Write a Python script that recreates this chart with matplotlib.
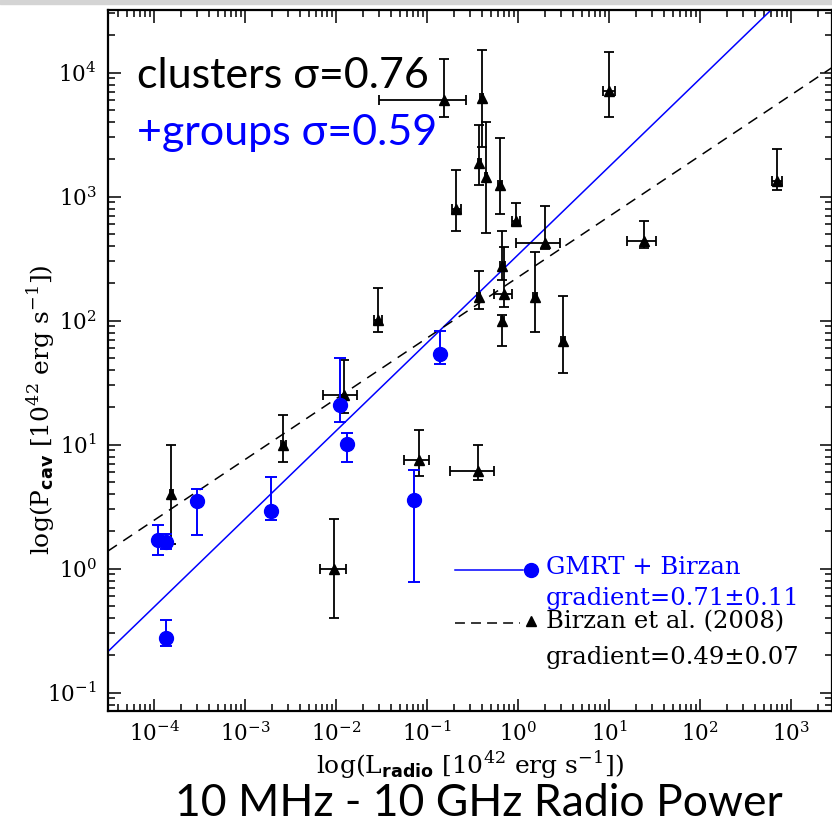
import numpy as np
import matplotlib.pyplot as plt
from matplotlib.ticker import LogLocator, NullFormatter

plt.rcParams['font.family'] = ['DejaVu Serif']
plt.rcParams['mathtext.fontset'] = 'custom'
plt.rcParams['mathtext.rm'] = 'DejaVu Serif'
plt.rcParams['mathtext.bf'] = 'DejaVu Sans:bold'

# GMRT + Birzan groups (blue circles): radio power, cavity power, y error range
gmrt_l = [1.11e-4, 1.35e-4, 2.95e-4, 1.94e-3, 1.11e-2, 1.32e-2, 7.13e-2, 1.35e-4, 0.14]
gmrt_p = [1.71, 1.64, 3.49, 2.89, 21.0, 10.1, 3.56, 0.276, 54.0]
gmrt_p_lo = [1.28, 1.45, 1.86, 2.45, 15.2, 7.3, 0.78, 0.238, 45.0]
gmrt_p_hi = [2.23, 1.91, 4.4, 5.45, 50.0, 12.4, 6.25, 0.385, 83.0]

# Birzan et al. (2008) clusters (black triangles)
bir_l = [0.152, 0.40, 9.96, 0.376, 0.446, 0.635, 0.21, 0.944, 1.97, 24.2,
         0.673, 0.37, 0.697, 0.673, 1.53, 3.13, 0.0289, 697.0,
         1.54e-4, 2.64e-3, 0.0121, 0.081, 0.36, 9.6e-3]
bir_l_lo = [0.030, 0.385, 8.5, 0.36, 0.43, 0.60, 0.19, 0.85, 0.96, 15.8,
            0.64, 0.355, 0.55, 0.65, 1.45, 3.0, 0.026, 610.0,
            1.48e-4, 2.5e-3, 7.1e-3, 0.056, 0.177, 6.6e-3]
bir_l_hi = [0.27, 0.415, 11.7, 0.39, 0.46, 0.67, 0.235, 1.05, 2.92, 32.4,
            0.71, 0.385, 0.86, 0.70, 1.62, 3.27, 0.032, 800.0,
            1.60e-4, 2.8e-3, 0.017, 0.106, 0.55, 0.0129]
bir_p = [6050, 6250, 7060, 1850, 1450, 1232, 800, 640, 424, 437,
         274, 155, 165, 98.6, 154, 68, 102, 1330,
         4.0, 9.9, 25, 7.57, 6.1, 1.0]
bir_p_lo = [4400, 2500, 4370, 1230, 509, 725, 525, 590, 378, 385,
            211, 123, 130, 62, 81, 38, 81, 1122,
            1.58, 7.2, 18, 5.6, 5.15, 0.40]
bir_p_hi = [12900, 15100, 14800, 3760, 3980, 2970, 1630, 885, 845, 635,
            525, 253, 393, 111, 355, 157, 184, 2440,
            10.0, 17.2, 48, 13.2, 10.0, 2.5]

# log-log fits: log P = intercept + slope * log L
fit_all = (2.531, 0.71)
fit_bir = (2.35, 0.49)

fig = plt.figure(figsize=(8.32, 8.23), dpi=100)
ax = fig.add_axes([108 / 832, 112 / 823, 724 / 832, 701 / 823])
ax.set_xscale('log')
ax.set_yscale('log')
xlim = (10 ** -4.506, 10 ** 3.45)
ylim = (10 ** -1.148, 10 ** 4.505)

# fit lines
lx = np.logspace(np.log10(xlim[0]), np.log10(xlim[1]), 200)
ax.plot(lx, 10 ** (fit_all[0] + fit_all[1] * np.log10(lx)), color='blue', lw=1.1)
ax.plot(lx, 10 ** (fit_bir[0] + fit_bir[1] * np.log10(lx)), color='black', lw=1.1,
        linestyle=(0, (7, 5)))

bl = np.array(bir_l)
bp = np.array(bir_p)
ax.errorbar(bl, bp,
            yerr=[bp - np.array(bir_p_lo), np.array(bir_p_hi) - bp],
            xerr=[bl - np.array(bir_l_lo), np.array(bir_l_hi) - bl],
            fmt='^', color='black', ms=7.5, elinewidth=1.3, capsize=3.5,
            capthick=1.3, zorder=3)

gl = np.array(gmrt_l)
gp = np.array(gmrt_p)
ax.errorbar(gl, gp, yerr=[gp - np.array(gmrt_p_lo), np.array(gmrt_p_hi) - gp],
            fmt='o', color='blue', ms=10, elinewidth=1.4, capsize=4.5,
            capthick=1.4, zorder=4)

ax.set_xlim(xlim)
ax.set_ylim(ylim)

for axis in (ax.xaxis, ax.yaxis):
    axis.set_major_locator(LogLocator(base=10, numticks=20))
    axis.set_minor_locator(LogLocator(base=10, subs=np.arange(2, 10), numticks=20))
    axis.set_minor_formatter(NullFormatter())
ax.tick_params(which='both', direction='in', top=True, right=True, width=1.1)
ax.tick_params(which='major', length=9, labelsize=15.5, pad=8)
ax.tick_params(which='minor', length=5)
for s in ax.spines.values():
    s.set_linewidth(1.6)

ax.set_xlabel(r'log(L$_{\mathbf{radio}}$ [10$^{42}$ erg s$^{-1}$])', fontsize=18)
ax.xaxis.set_label_coords(0.5, -0.056)
ax.set_ylabel(r'log(P$_{\mathbf{cav}}$ [10$^{42}$ erg s$^{-1}$])', fontsize=18)
ax.yaxis.set_label_coords(-0.069, 0.43)

# scatter annotations
ax.text(0.040, 0.889, 'clusters σ=0.76', transform=ax.transAxes, fontsize=31,
        family='Lato', color='black', va='baseline')
ax.text(0.040, 0.807, '+groups σ=0.59', transform=ax.transAxes, fontsize=31,
        family='Lato', color='blue', va='baseline')

# legend keys
ax.plot([0.479, 0.573], [0.201, 0.201], transform=ax.transAxes, color='blue', lw=1.1, clip_on=False)
ax.plot([0.584], [0.201], 'o', transform=ax.transAxes, color='blue', ms=10, clip_on=False)
ax.text(0.605, 0.204, 'GMRT + Birzan', transform=ax.transAxes, fontsize=17.5,
        color='blue', va='center')
ax.text(0.605, 0.161, 'gradient=0.71±0.11', transform=ax.transAxes, fontsize=17.5,
        color='blue', va='center')
ax.plot([0.479, 0.569], [0.1255, 0.1255], transform=ax.transAxes, color='black', lw=1.1,
        linestyle=(0, (6.5, 4)), clip_on=False)
ax.plot([0.584], [0.128], '^', transform=ax.transAxes, color='black', ms=7.5, clip_on=False)
ax.text(0.605, 0.127, 'Birzan et al. (2008)', transform=ax.transAxes, fontsize=17.5,
        color='black', va='center')
ax.text(0.605, 0.076, 'gradient=0.49±0.07', transform=ax.transAxes, fontsize=17.5,
        color='black', va='center')

fig.text(0.575, 0.0085, '10 MHz - 10 GHz Radio Power', ha='center', va='baseline',
         fontsize=32, family='Lato')

# thin grey band along the top edge
fig.patches.append(plt.Rectangle((0, 1 - 4 / 823), 1, 4 / 823, transform=fig.transFigure,
                                 color='#d4d4d4', zorder=0))

fig.savefig('out.png', dpi=100)
